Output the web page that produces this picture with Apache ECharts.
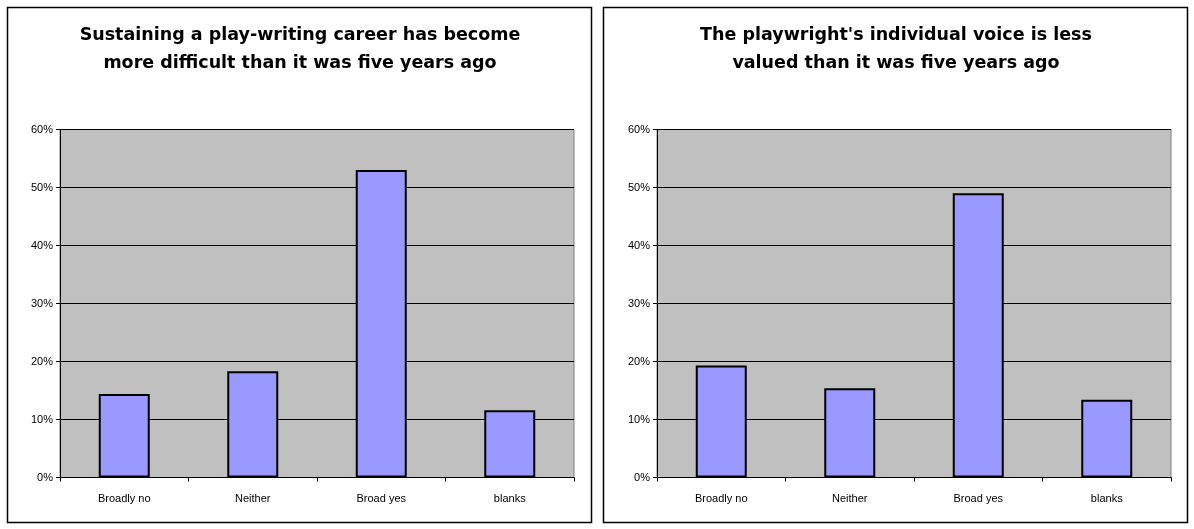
<!DOCTYPE html>
<html>
<head>
<meta charset="utf-8">
<script src="https://cdn.jsdelivr.net/npm/echarts@6/dist/echarts.min.js"></script>
<style>
  html, body { margin: 0; padding: 0; background: #fff; }
  #chart { width: 1194px; height: 529px; }
</style>
</head>
<body>
<div id="chart"></div>
<script>
// Survey answers, share of respondents (%)
const categories = ['Broadly no', 'Neither', 'Broad yes', 'blanks'];
const careerValues = [14.4, 18.3, 53.0, 11.6];
const voiceValues = [19.3, 15.4, 49.0, 13.4];
const careerTitle = 'Sustaining a play-writing career has become\nmore difficult than it was five years ago';
const voiceTitle = "The playwright's individual voice is less\nvalued than it was five years ago";
const yTicks = { min: 0, max: 60, interval: 10 };

const FONT = 'Liberation Sans, Arial, sans-serif';
const TITLE_FONT = 'DejaVu Sans, Liberation Sans, Arial, sans-serif';

function gridOf(left) {
  return {
    left: left, top: 129.5, width: 514, height: 348,
    show: true, backgroundColor: '#C0C0C0',
    borderColor: '#808080', borderWidth: 1
  };
}

function xAxisOf(idx) {
  return {
    type: 'category', gridIndex: idx, data: categories,
    axisLine: { lineStyle: { color: '#000', width: 1 } },
    axisTick: { show: true, length: 4, lineStyle: { color: '#000' } },
    axisLabel: { color: '#000', fontFamily: FONT, fontSize: 11, margin: 16 },
    splitLine: { show: false }
  };
}

function yAxisOf(idx) {
  return {
    type: 'value', gridIndex: idx,
    min: yTicks.min, max: yTicks.max, interval: yTicks.interval,
    axisLine: { show: true, lineStyle: { color: '#000', width: 1 } },
    axisTick: { show: true, length: 4, lineStyle: { color: '#000' } },
    axisLabel: { color: '#000', fontFamily: FONT, fontSize: 11, margin: 7,
                 formatter: v => v + '%' },
    splitLine: { show: true, lineStyle: { color: '#000', width: 1 } }
  };
}

function barsOf(idx, values) {
  return {
    type: 'bar', xAxisIndex: idx, yAxisIndex: idx, data: values,
    barWidth: 51,
    itemStyle: { color: '#9999FF', borderColor: '#000', borderWidth: 2 },
    silent: true, animation: false
  };
}

function titleOf(text, centerX) {
  return {
    text: text, left: centerX, top: 21, textAlign: 'center', padding: 0,
    textStyle: { fontFamily: TITLE_FONT, fontSize: 17.5, fontWeight: 'bold',
                 color: '#000', lineHeight: 28.5 }
  };
}

const chart = echarts.init(document.getElementById('chart'), null, { renderer: 'canvas' });
chart.setOption({
  backgroundColor: '#fff',
  animation: false,
  title: [titleOf(careerTitle, 300), titleOf(voiceTitle, 896)],
  grid: [gridOf(60), gridOf(657)],
  xAxis: [xAxisOf(0), xAxisOf(1)],
  yAxis: [yAxisOf(0), yAxisOf(1)],
  series: [barsOf(0, careerValues), barsOf(1, voiceValues)],
  graphic: [
    { type: 'rect', shape: { x: 7.5, y: 7.5, width: 584, height: 515 },
      style: { fill: null, stroke: '#000', lineWidth: 1.5 }, silent: true },
    { type: 'rect', shape: { x: 603.5, y: 7.5, width: 584, height: 515 },
      style: { fill: null, stroke: '#000', lineWidth: 1.5 }, silent: true }
  ]
});
</script>
</body>
</html>
